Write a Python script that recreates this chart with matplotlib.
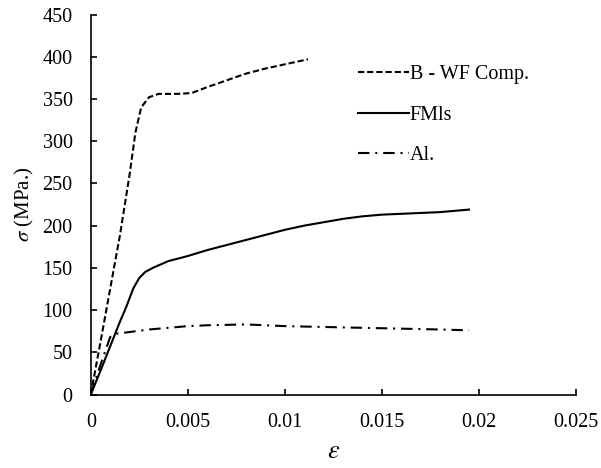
import numpy as np
import matplotlib
matplotlib.use('Agg')
import matplotlib.pyplot as plt

plt.rcParams['font.family'] = ['Liberation Serif', 'DejaVu Serif']
plt.rcParams['mathtext.fontset'] = 'stix'

# stress-strain curves (strain, MPa)
eps_bwf = [0, 0.0005, 0.001, 0.0015, 0.002, 0.0023, 0.0026, 0.003, 0.0035,
           0.0045, 0.0052, 0.006, 0.007, 0.008, 0.009, 0.010, 0.0112]
sig_bwf = [0, 62, 125, 188, 260, 310, 340, 352, 356,
           356, 357, 364, 372, 380, 386, 391, 397]

eps_fml = [0, 0.0005, 0.001, 0.0015, 0.0018, 0.002, 0.0022, 0.0025, 0.0028,
           0.0032, 0.004, 0.005, 0.006, 0.007, 0.008, 0.009, 0.010, 0.011,
           0.012, 0.013, 0.014, 0.015, 0.016, 0.017, 0.018, 0.019, 0.0195]
sig_fml = [0, 28, 57, 86, 102, 114, 126, 138, 145,
           150, 158, 164, 171, 177, 183, 189, 195, 200,
           204, 208, 211, 213, 214, 215, 216, 218, 219]

eps_al = [0, 0.0005, 0.001, 0.0013, 0.002, 0.003, 0.004, 0.005, 0.006,
          0.007, 0.008, 0.009, 0.010, 0.012, 0.014, 0.016, 0.018, 0.0195]
sig_al = [0, 35, 68, 72, 74, 77, 79, 81, 82,
          82.5, 83, 82, 81, 80, 79, 78, 77, 76]

fig = plt.figure(figsize=(6.01, 4.68), dpi=100)
ax = fig.add_axes([0.151, 0.157, 0.807, 0.812])

lw = 1.5
ax.plot(eps_bwf, sig_bwf, color='k', lw=lw, dashes=(3, 1.4), label='B - WF Comp.')
ax.plot(eps_fml, sig_fml, color='k', lw=lw, label='FMls')
ax.plot(eps_al, sig_al, color='k', lw=lw, dashes=(5.5, 2.8, 1, 2.8), label='Al.')

ax.set_xlim(0, 0.025)
ax.set_ylim(0, 450)
ax.set_xticks([0, 0.005, 0.01, 0.015, 0.02, 0.025])
ax.set_xticklabels(['0', '0.005', '0.01', '0.015', '0.02', '0.025'])
ax.set_yticks(np.arange(0, 451, 50))

for s in ['top', 'right']:
    ax.spines[s].set_visible(False)
for s in ['left', 'bottom']:
    ax.spines[s].set_linewidth(1.2)
ax.tick_params(direction='in', length=4, width=1.2, labelsize=14.5)
ax.tick_params(axis='x', pad=13)
ax.tick_params(axis='y', pad=13)

ax.set_xlabel(r'$\varepsilon$', fontsize=19, labelpad=7)
ax.set_ylabel(r'$\sigma$ (MPa.)', fontsize=15, labelpad=5)

ax.legend(loc='upper left', bbox_to_anchor=(0.514, 0.914), frameon=False,
          fontsize=14.5, handlelength=2.5, handletextpad=0.05, labelspacing=1.05)

fig.savefig('out.png', dpi=100)
